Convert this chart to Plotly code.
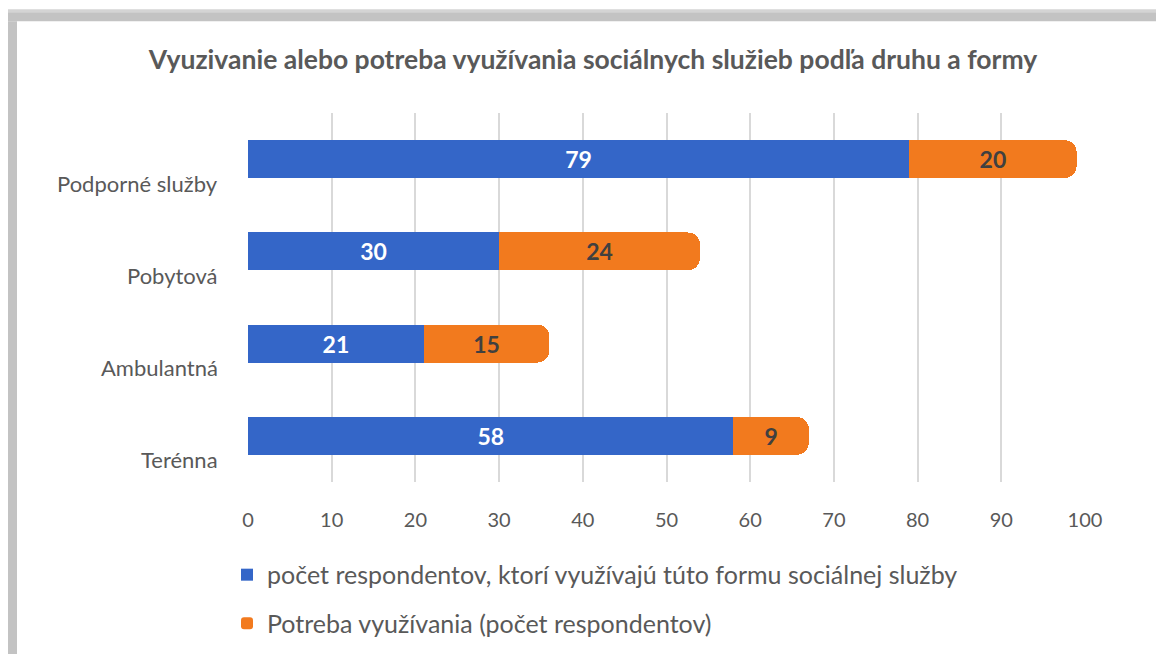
import plotly.graph_objects as go

# data (bottom to top)
categories = ['Terénna', 'Ambulantná', 'Pobytová', 'Podporné služby']
pouzivaju = [58, 21, 30, 79]
potreba = [9, 15, 24, 20]
series_names = ['počet respondentov, ktorí využívajú túto formu sociálnej služby',
                'Potreba využívania (počet respondentov)']
x_ticks = [0, 10, 20, 30, 40, 50, 60, 70, 80, 90, 100]

# page body has an 8px margin, so the figure is 8px smaller than the window
W, H = 1156, 650
L, R = 240, 1077          # pixel position of 0 and 100
T, B = 104.5, 476.5       # plot top / bottom in pixels
gray_txt = '#595959'
font_fam = 'Lato, Open Sans, sans-serif'


def px_x(p):
    return (p - L) / (R - L)


def px_y(p):
    return (B - p) / (B - T)


fig = go.Figure()
fig.add_trace(go.Bar(y=categories, x=pouzivaju, orientation='h', name=series_names[0],
                     marker=dict(color='#3466c8', line=dict(width=0)),
                     text=pouzivaju, textposition='inside', insidetextanchor='middle',
                     textfont=dict(color='white', size=23, family=font_fam, weight='bold'),
                     legendgroup='a'))
fig.add_trace(go.Bar(y=categories, x=potreba, orientation='h', name=series_names[1],
                     marker=dict(color='#f27a1e', line=dict(width=0), cornerradius=12),
                     text=potreba, textposition='inside', insidetextanchor='middle',
                     textfont=dict(color='#404040', size=23, family=font_fam, weight='bold'),
                     legendgroup='b'))

# category labels sit a bit lower than the bars (3D perspective in original)
for c in categories:
    fig.add_annotation(x=0, xref='paper', y=c, yref='y', text=c, showarrow=False,
                       xanchor='right', yanchor='middle', xshift=-28, yshift=-24,
                       font=dict(size=22, color=gray_txt, family=font_fam))

# outer frame of the chart object (top and left edge)
fig.add_shape(type='rect', xref='paper', yref='paper', x0=px_x(0), x1=px_x(W),
              y0=px_y(0), y1=px_y(3), fillcolor='#d4d4d4', line_width=0, layer='below')
fig.add_shape(type='rect', xref='paper', yref='paper', x0=px_x(0), x1=px_x(W),
              y0=px_y(3), y1=px_y(12), fillcolor='#c3c3c3', line_width=0, layer='below')
fig.add_shape(type='rect', xref='paper', yref='paper', x0=px_x(0), x1=px_x(9),
              y0=px_y(H), y1=px_y(12), fillcolor='#c3c3c3', line_width=0, layer='below')

fig.update_layout(
    width=W, height=H,
    margin=dict(l=L, r=W - R, t=T, b=H - B),
    paper_bgcolor='white', plot_bgcolor='white',
    font=dict(family=font_fam, color=gray_txt),
    barmode='stack', bargap=0.59,
    title=dict(text='<b>Vyuzivanie alebo potreba využívania sociálnych služieb podľa druhu a formy</b>',
               x=585 / W, xanchor='center', y=1 - 52 / H, yanchor='middle', yref='container',
               font=dict(size=26.5, color=gray_txt, family=font_fam)),
    xaxis=dict(range=[0, 100], tickvals=x_ticks, showgrid=True, gridcolor='#d9d9d9', gridwidth=2,
               zeroline=False, showline=False, ticks='', ticklabelstandoff=24,
               tickfont=dict(size=20, color=gray_txt)),
    yaxis=dict(showticklabels=False, showgrid=False, zeroline=False, showline=False,
               range=[-0.5, 3.5]),
    legend=dict(orientation='v', x=px_x(219), xanchor='left', y=px_y(547), yanchor='top',
                font=dict(size=25, color=gray_txt), tracegroupgap=13, traceorder='grouped',
                bgcolor='rgba(0,0,0,0)'),
)

fig.write_html('out.html')
